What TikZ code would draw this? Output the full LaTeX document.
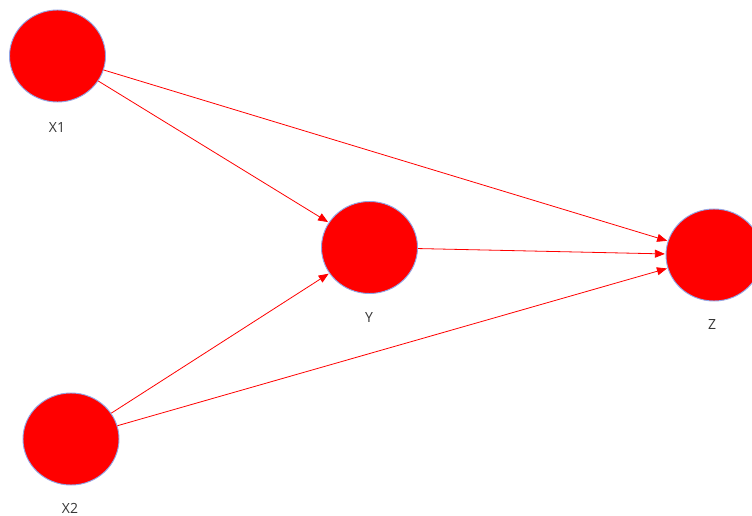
\documentclass[tikz,border=0pt]{standalone}
\usepackage{fontspec}
\setmainfont{Open Sans}
\usetikzlibrary{arrows.meta, shapes.geometric}
\definecolor{nodered}{RGB}{255,0,0}
\definecolor{rimblue}{RGB}{145,165,230}
\definecolor{labgray}{RGB}{55,55,55}

\begin{document}
\begin{tikzpicture}[
    x=0.75pt, y=-0.75pt,
    >={Triangle[length=7.5pt, width=6pt]},
    var/.style  ={ellipse, draw=rimblue, line width=0.7pt, fill=nodered,
                  minimum width=72pt, minimum height=69pt, inner sep=0pt},
    lab/.style  ={text=labgray, font=\fontsize{10.5pt}{12pt}\selectfont,
                  inner sep=1pt},
    path/.style ={->, red, line width=0.6pt, shorten >=0.5pt},
]
\useasboundingbox (0,0) rectangle (752,516);
\fill[white] (0,0) rectangle (752,516);
% variables
\node[var] (x1) at (57.5,56)  {};
\node[var] (x2) at (71,439)   {};
\node[var] (y)  at (369.5,247.5) {};
\node[var] (z)  at (714,255)  {};
% names
\node[lab] (x1lab) at (57,128)  {X1};
\node[lab] (x2lab) at (70,508)  {X2};
\node[lab] (ylab)  at (369,318) {Y};
\node[lab] (zlab)  at (712,325) {Z};
% paths
\draw[path] (x1) -- (y);
\draw[path] (x1) -- (z);
\draw[path] (x2) -- (y);
\draw[path] (x2) -- (z);
\draw[path] (y)  -- (z);
\end{tikzpicture}
\end{document}
